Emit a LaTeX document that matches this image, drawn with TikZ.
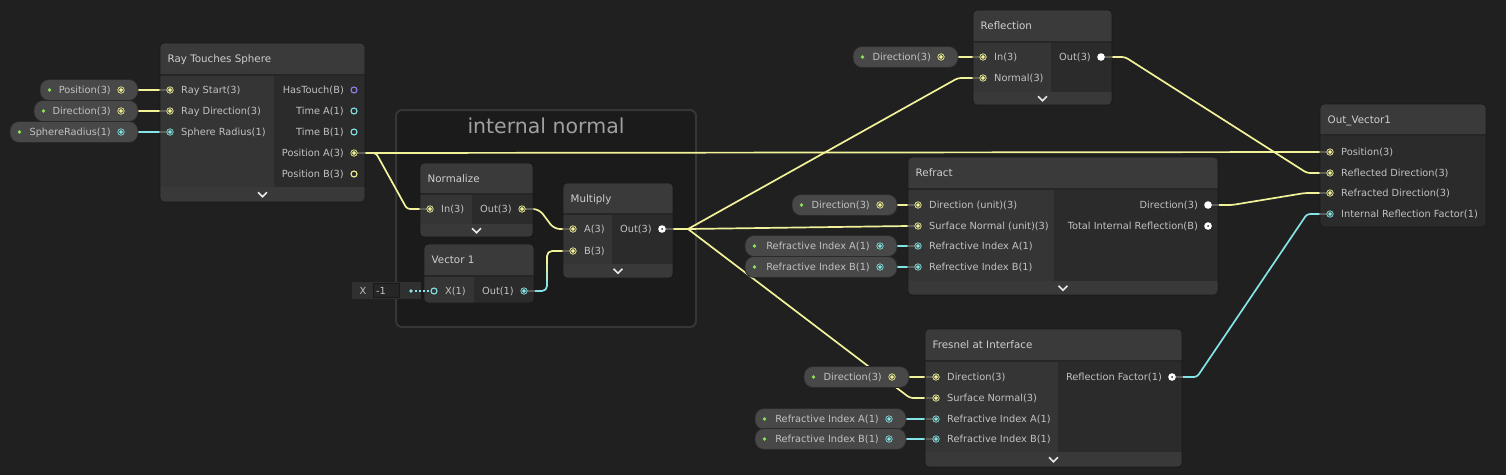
\documentclass[tikz,border=0pt]{standalone}
\usepackage{fontspec}
\setmainfont{DejaVu Sans}
\definecolor{bgc}{HTML}{202020}
\definecolor{grpc}{HTML}{1B1B1B}
\definecolor{grpb}{HTML}{363636}
\definecolor{titlec}{HTML}{3A3A3A}
\definecolor{inc}{HTML}{353535}
\definecolor{outc}{HTML}{2B2B2B}
\definecolor{footc}{HTML}{393939}
\definecolor{sepc}{HTML}{262626}
\definecolor{nodeb}{HTML}{1A1A1A}
\definecolor{pillc}{HTML}{484848}
\definecolor{pillb}{HTML}{2A2A2A}
\definecolor{greenc}{HTML}{8CE05A}
\definecolor{yelc}{HTML}{F2F29A}
\definecolor{cyac}{HTML}{84E4E7}
\definecolor{purc}{HTML}{9481E6}
\definecolor{labc}{HTML}{C2C2C2}
\definecolor{titc}{HTML}{CFCFCF}
\definecolor{stubc}{HTML}{5E5E58}
\definecolor{ringc}{HTML}{3A3A30}
\definecolor{chevc}{HTML}{E8E8E8}
\definecolor{grpt}{HTML}{A0A0A0}
\definecolor{fldc}{HTML}{303030}
\definecolor{fldin}{HTML}{262626}
\tikzset{
  lbl/.style={inner sep=0pt, text height=7.1pt, text depth=0pt, font=\fontsize{9.8}{12}\selectfont, text=labc},
  ttlst/.style={inner sep=0pt, text height=7.4pt, text depth=0pt, font=\fontsize{10.3}{12}\selectfont, text=titc},
  grptitle/.style={inner sep=0pt, font=\fontsize{20.5}{24}\selectfont, text=grpt},
  wire/.style={line width=1.7pt, line cap=round, rounded corners=3pt},
  wy/.style={wire, draw=yelc},
  wc/.style={wire, draw=cyac},
}
\newcommand{\sgbox}[7]{%
  \begin{scope}
    \clip[rounded corners=4pt] (#1,#2) rectangle (#3,#7);
    \fill[titlec] (#1,#2) rectangle (#3,#4);
    \fill[inc] (#1,#4) rectangle (#5,#6);
    \fill[outc] (#5,#4) rectangle (#3,#6);
    \fill[footc] (#1,#6) rectangle (#3,#7);
    \draw[sepc, line width=1.2pt] (#1,#4) -- (#3,#4);
  \end{scope}
  \draw[nodeb, line width=0.8pt, rounded corners=4pt] (#1,#2) rectangle (#3,#7);
}
\newcommand{\chev}[2]{\draw[chevc, line width=1.6pt] (#1-4.5,#2-2.2) -- (#1,#2+2.2) -- (#1+4.5,#2-2.2);}
\newcommand{\pill}[5]{%
  \fill[pillc, draw=pillb, line width=0.8pt, rounded corners=9pt] (#1,#3-10.5) rectangle (#2,#3+10.5);
  \fill[greenc] (#1+9.5,#3) circle (1.9pt);
  \node[lbl, anchor=east] (#5) at (#2-27,#3) {#4};
}
\newcommand{\gpin}[2]{\fill[#2] (#1) circle (3.6pt); \draw[ringc, line width=0.8pt] (#1) circle (2.3pt);}
\newcommand{\gring}[2]{\draw[#2, line width=1.1pt] (#1) circle (3pt);}
\newcommand{\gwhite}[1]{\fill[white] (#1) circle (3.8pt);}
\newcommand{\gwhitedot}[1]{\fill[white] (#1) circle (3.8pt); \fill[outc] (#1) circle (1pt);}
\newcommand{\stubin}[1]{\draw[stubc, line width=1.7pt] ([xshift=-10pt]#1) -- (#1);}
\newcommand{\stubout}[1]{\draw[stubc, line width=1.7pt] (#1) -- ([xshift=11pt]#1);}
\newcommand{\lin}[3]{\node[lbl, anchor=west] (#1) at ([xshift=11pt]#2) {#3};}
\newcommand{\lout}[3]{\node[lbl, anchor=east] (#1) at ([xshift=-10pt]#2) {#3};}

\begin{document}
\begin{tikzpicture}[x=1pt,y=-1pt]
\useasboundingbox (0,0) rectangle (1506,475);
\fill[bgc] (0,0) rectangle (1506,475);

% group
\fill[grpc, draw=grpb, line width=2pt, rounded corners=6pt] (396,110) rectangle (696,327);
\node[grptitle] (grp) at (546,126) {internal normal};

% ---------- port coordinates ----------
\coordinate (pPos) at (121,90);
\coordinate (pDir) at (121,111);
\coordinate (pRad) at (121,132);
\coordinate (rts-i1) at (170,90);
\coordinate (rts-i2) at (170,111);
\coordinate (rts-i3) at (170,132);
\coordinate (rts-o1) at (354,90);
\coordinate (rts-o2) at (354,111);
\coordinate (rts-o3) at (354,132);
\coordinate (rts-o4) at (354,153);
\coordinate (rts-o5) at (354,174);
\coordinate (nrm-i) at (430,209);
\coordinate (nrm-o) at (522,209);
\coordinate (vec-i) at (434,291);
\coordinate (vec-o) at (524,291);
\coordinate (vfld) at (411,291);
\coordinate (mul-a) at (573,229);
\coordinate (mul-b) at (573,251);
\coordinate (mul-o) at (662,229);
\coordinate (hub) at (688,229);
\coordinate (pRDir) at (941,57);
\coordinate (refl-i1) at (983,57);
\coordinate (refl-i2) at (983,78);
\coordinate (refl-o) at (1101,57);
\coordinate (ov-1) at (1330,152);
\coordinate (ov-2) at (1330,173);
\coordinate (ov-3) at (1330,193);
\coordinate (ov-4) at (1330,214);
\coordinate (pFDir) at (880,205);
\coordinate (pFA) at (880,246);
\coordinate (pFB) at (880,267);
\coordinate (rfr-i1) at (918,205);
\coordinate (rfr-i2) at (918,226);
\coordinate (rfr-i3) at (918,246);
\coordinate (rfr-i4) at (918,267);
\coordinate (rfr-o1) at (1208,205);
\coordinate (rfr-o2) at (1208,226);
\coordinate (pSDir) at (892,377);
\coordinate (pSA) at (889,419);
\coordinate (pSB) at (889,439);
\coordinate (fr-i1) at (936,377);
\coordinate (fr-i2) at (936,398);
\coordinate (fr-i3) at (936,419);
\coordinate (fr-i4) at (936,439);
\coordinate (fr-o) at (1172,377);
\coordinate (vb1) at (547,280);
\coordinate (vb2) at (547,272);
\coordinate (vb3) at (547,264);

% ---------- wires ----------
\draw[wy] (pPos) -- (rts-i1);
\draw[wy] (pDir) -- (rts-i2);
\draw[wc] (pRad) -- (rts-i3);
\draw[wy] (rts-o4) -- ++(12,0) -- ([xshift=-12pt]ov-1) -- (ov-1);
\draw[wy] (rts-o4) -- ++(22,0) -- ([xshift=-23pt]nrm-i) -- (nrm-i);
\draw[wy, rounded corners=6pt] (nrm-o) -- ++(17,0) -- ([xshift=-19pt]mul-a) -- (mul-a);
\draw[wc, rounded corners=5pt] (vec-o) -- ([xshift=23pt]vec-o) -- (vb1);
\draw[wire, draw=cyac!60!yelc] (vb1) -- (vb2);
\draw[wire, draw=cyac!30!yelc] (vb2) -- (vb3);
\draw[wy, rounded corners=5pt] (vb3) -- ([xshift=-26pt]mul-b) -- (mul-b);
\draw[wy] (mul-o) -- (hub);
\draw[wy] (hub) -- ([xshift=-25pt]refl-i2) -- (refl-i2);
\draw[wy] (hub) -- ([xshift=-10pt]rfr-i2) -- (rfr-i2);
\draw[wy] (hub) -- ([xshift=-26pt]fr-i2) -- (fr-i2);
\draw[wy] (pRDir) -- (refl-i1);
\draw[wy] (pFDir) -- (rfr-i1);
\draw[wc] (pFA) -- (rfr-i3);
\draw[wc] (pFB) -- (rfr-i4);
\draw[wy] (pSDir) -- (fr-i1);
\draw[wc] (pSA) -- (fr-i3);
\draw[wc] (pSB) -- (fr-i4);
\draw[wy] (refl-o) -- ++(24,0) -- ([xshift=-23pt]ov-2) -- (ov-2);
\draw[wy] (rfr-o1) -- ++(24,0) -- ([xshift=-25pt]ov-3) -- (ov-3);
\draw[wc] (fr-o) -- ++(25,0) -- ([xshift=-23pt]ov-4) -- (ov-4);

% ---------- node boxes ----------
\sgbox{160}{43}{365}{75}{274}{187}{202}
\chev{262.5}{194.5}
\sgbox{420}{163}{533}{194}{472}{224}{237}
\chev{476.5}{230.5}
\sgbox{424}{244}{534}{276}{474}{303}{303}
\sgbox{563}{183}{673}{214}{612}{264}{278}
\chev{618}{271}
\sgbox{973}{10}{1112}{42}{1051}{92}{105}
\chev{1042.5}{98.5}
\sgbox{1320}{104}{1486}{135}{1320}{227}{227}
\sgbox{908}{157}{1218}{189}{1054}{281}{295}
\chev{1063}{288}
\sgbox{925}{329}{1182}{361}{1058}{452}{467}
\chev{1053.5}{459.5}

% ---------- property pills ----------
\pill{40}{138}{90}{Position(3)}{tPos}
\pill{34}{138}{111}{Direction(3)}{tDir}
\pill{10}{138}{132}{SphereRadius(1)}{tRad}
\pill{853}{958}{57}{Direction(3)}{tRDir}
\pill{792}{897}{205}{Direction(3)}{tFDir}
\pill{745}{897}{246}{Refractive Index A(1)}{tFA}
\pill{745}{897}{267}{Refractive Index B(1)}{tFB}
\pill{804}{909}{377}{Direction(3)}{tSDir}
\pill{755}{906}{419}{Refractive Index A(1)}{tSA}
\pill{755}{906}{439}{Refractive Index B(1)}{tSB}

% ---------- vector 1 inline field ----------
\fill[fldc] (352,282) rectangle (421,299);
\fill[fldin, draw=nodeb, line width=0.6pt] (373,283.5) rectangle (399,297.5);
\node[lbl] (fx) at (363,291) {X};
\node[lbl, anchor=west] (fv) at (376,291) {-1};
\draw[cyac, line width=1.2pt, dash pattern=on 2pt off 2pt] ([xshift=4pt]vfld) -- ([xshift=-5pt]vec-i);
\fill[cyac] (vfld) circle (1.8pt);

% ---------- stubs ----------
\stubin{rts-i1} \stubin{rts-i2} \stubin{rts-i3} \stubout{rts-o4}
\stubin{nrm-i} \stubout{nrm-o}
\stubout{vec-o}
\stubin{mul-a} \stubin{mul-b} \stubout{mul-o}
\stubin{refl-i1} \stubin{refl-i2} \stubout{refl-o}
\stubin{ov-1} \stubin{ov-2} \stubin{ov-3} \stubin{ov-4}
\stubin{rfr-i1} \stubin{rfr-i2} \stubin{rfr-i3} \stubin{rfr-i4} \stubout{rfr-o1}
\stubin{fr-i1} \stubin{fr-i2} \stubin{fr-i3} \stubin{fr-i4} \stubout{fr-o}

% ---------- port glyphs ----------
\gpin{pPos}{yelc} \gpin{pDir}{yelc} \gpin{pRad}{cyac}
\gpin{rts-i1}{yelc} \gpin{rts-i2}{yelc} \gpin{rts-i3}{cyac}
\gring{rts-o1}{purc} \gring{rts-o2}{cyac} \gring{rts-o3}{cyac} \gpin{rts-o4}{yelc} \gring{rts-o5}{yelc}
\gpin{nrm-i}{yelc} \gpin{nrm-o}{yelc}
\gring{vec-i}{cyac} \gpin{vec-o}{cyac}
\gpin{mul-a}{yelc} \gpin{mul-b}{yelc} \gwhitedot{mul-o}
\gpin{pRDir}{yelc}
\gpin{refl-i1}{yelc} \gpin{refl-i2}{yelc} \gwhite{refl-o}
\gpin{ov-1}{yelc} \gpin{ov-2}{yelc} \gpin{ov-3}{yelc} \gpin{ov-4}{cyac}
\gpin{pFDir}{yelc} \gpin{pFA}{cyac} \gpin{pFB}{cyac}
\gpin{rfr-i1}{yelc} \gpin{rfr-i2}{yelc} \gpin{rfr-i3}{cyac} \gpin{rfr-i4}{cyac}
\gwhite{rfr-o1} \gwhitedot{rfr-o2}
\gpin{pSDir}{yelc} \gpin{pSA}{cyac} \gpin{pSB}{cyac}
\gpin{fr-i1}{yelc} \gpin{fr-i2}{yelc} \gpin{fr-i3}{cyac} \gpin{fr-i4}{cyac}
\gwhitedot{fr-o}

% ---------- titles ----------
\node[ttlst, anchor=west] (rts) at (167.5,59) {Ray Touches Sphere};
\node[ttlst, anchor=west] (nrm) at (427.5,178.5) {Normalize};
\node[ttlst, anchor=west] (vec) at (431.5,260) {Vector 1};
\node[ttlst, anchor=west] (mul) at (570.5,198.5) {Multiply};
\node[ttlst, anchor=west] (refl) at (980.5,26) {Reflection};
\node[ttlst, anchor=west] (ov) at (1327.5,120) {Out\_Vector1};
\node[ttlst, anchor=west] (rfr) at (915.5,173) {Refract};
\node[ttlst, anchor=west] (fr) at (932.5,345) {Fresnel at Interface};

% ---------- port labels ----------
\lin{l1}{rts-i1}{Ray Start(3)}
\lin{l2}{rts-i2}{Ray Direction(3)}
\lin{l3}{rts-i3}{Sphere Radius(1)}
\lout{l4}{rts-o1}{HasTouch(B)}
\lout{l5}{rts-o2}{Time A(1)}
\lout{l6}{rts-o3}{Time B(1)}
\lout{l7}{rts-o4}{Position A(3)}
\lout{l8}{rts-o5}{Position B(3)}
\lin{l9}{nrm-i}{In(3)}
\lout{l10}{nrm-o}{Out(3)}
\lin{l11}{vec-i}{X(1)}
\lout{l12}{vec-o}{Out(1)}
\lin{l13}{mul-a}{A(3)}
\lin{l14}{mul-b}{B(3)}
\lout{l15}{mul-o}{Out(3)}
\lin{l16}{refl-i1}{In(3)}
\lin{l17}{refl-i2}{Normal(3)}
\lout{l18}{refl-o}{Out(3)}
\lin{l19}{ov-1}{Position(3)}
\lin{l20}{ov-2}{Reflected Direction(3)}
\lin{l21}{ov-3}{Refracted Direction(3)}
\lin{l22}{ov-4}{Internal Reflection Factor(1)}
\lin{l23}{rfr-i1}{Direction (unit)(3)}
\lin{l24}{rfr-i2}{Surface Normal (unit)(3)}
\lin{l25}{rfr-i3}{Refractive Index A(1)}
\lin{l26}{rfr-i4}{Refrective Index B(1)}
\lout{l27}{rfr-o1}{Direction(3)}
\lout{l28}{rfr-o2}{Total Internal Reflection(B)}
\lin{l29}{fr-i1}{Direction(3)}
\lin{l30}{fr-i2}{Surface Normal(3)}
\lin{l31}{fr-i3}{Refractive Index A(1)}
\lin{l32}{fr-i4}{Refractive Index B(1)}
\lout{l33}{fr-o}{Reflection Factor(1)}
\end{tikzpicture}
\end{document}
